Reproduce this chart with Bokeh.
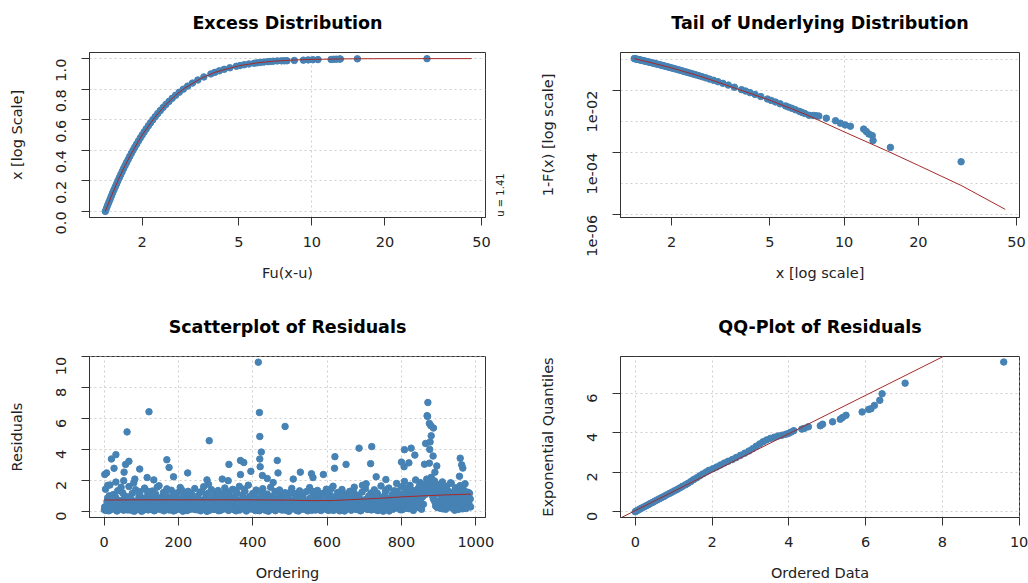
import math

from bokeh.embed import file_html
from bokeh.layouts import gridplot
from bokeh.models import (CustomJSTickFormatter, FixedTicker, LinearAxis,
                          PrintfTickFormatter, Range1d)
from bokeh.plotting import figure
from bokeh.resources import INLINE

FONT = "DejaVu Sans"
BLUE = "#4682b4"
RED = "brown"

# ---- excess / tail data (ordered exceedances over u = 1.41)
exceed_x = [
    1.41, 1.426, 1.442, 1.459, 1.476, 1.493, 1.511, 1.530, 1.549, 1.569,
    1.589, 1.610, 1.632, 1.654, 1.677, 1.701, 1.726, 1.752, 1.778, 1.806,
    1.835, 1.865, 1.897, 1.930, 1.964, 2.000, 2.038, 2.078, 2.121, 2.166,
    2.213, 2.264, 2.318, 2.376, 2.439, 2.506, 2.580, 2.660, 2.748, 2.846,
    2.956, 3.080, 3.223, 3.391, 3.591, 3.838, 3.986, 4.157, 4.356, 4.594,
    4.888, 5.064, 5.267, 5.503, 5.787, 5.952, 6.137, 6.346, 6.587, 6.749,
    6.931, 7.206,
    7.5, 7.7, 7.9, 8.47, 9.23, 9.66, 10.1, 10.6, 12.0, 12.3, 12.6, 13.0,
    13.1, 15.4, 29.8,
]
excess_cdf = [
    0.00, 0.02, 0.04, 0.06, 0.08, 0.10, 0.12, 0.14, 0.16, 0.18,
    0.20, 0.22, 0.24, 0.26, 0.28, 0.30, 0.32, 0.34, 0.36, 0.38,
    0.40, 0.42, 0.44, 0.46, 0.48, 0.50, 0.52, 0.54, 0.56, 0.58,
    0.60, 0.62, 0.64, 0.66, 0.68, 0.70, 0.72, 0.74, 0.76, 0.78,
    0.80, 0.82, 0.84, 0.86, 0.88, 0.90, 0.91, 0.92, 0.93, 0.94,
    0.95, 0.955, 0.96, 0.965, 0.97, 0.9725, 0.975, 0.9775, 0.98, 0.9815,
    0.983, 0.985,
    0.9852, 0.9855, 0.9859, 0.9879, 0.9900, 0.9917, 0.9927, 0.9934,
    0.9946, 0.9955, 0.9963, 0.9967, 0.9977, 0.9986, 0.9995,
]
tail_prob = [
    0.107, 0.1049, 0.1027, 0.1006, 0.0984, 0.0963, 0.0942, 0.0920, 0.0899, 0.0877,
    0.0856, 0.0835, 0.0813, 0.0792, 0.0770, 0.0749, 0.0728, 0.0706, 0.0685, 0.0663,
    0.0642, 0.0621, 0.0599, 0.0578, 0.0556, 0.0535, 0.0514, 0.0492, 0.0471, 0.0449,
    0.0428, 0.0407, 0.0385, 0.0364, 0.0342, 0.0321, 0.0300, 0.0278, 0.0257, 0.0235,
    0.0214, 0.0193, 0.0171, 0.0150, 0.0128, 0.0107, 0.00963, 0.00856, 0.00749, 0.00642,
    0.00535, 0.00482, 0.00428, 0.00375, 0.00321, 0.00294, 0.00268, 0.00241, 0.00214, 0.00198,
    0.00182, 0.00161,
    0.00158, 0.00155, 0.00151, 0.00129, 0.00107, 0.00089, 0.00078, 0.00071,
    0.000575, 0.00048, 0.00040, 0.000355, 0.000245, 0.000148, 0.000051,
]

# fitted GPD curves
fit_x = [1.41, 1.5, 1.6, 1.7, 1.8, 2.0, 2.25, 2.5, 2.75, 3.0, 3.5, 4.0,
         5.0, 6.0, 7.0, 8.5, 10, 15, 20, 30, 45.5]
fit_cdf = [0, 0.107, 0.211, 0.299, 0.376, 0.5, 0.614, 0.698, 0.760, 0.808,
           0.871, 0.911, 0.953, 0.973, 0.9835, 0.9913, 0.995, 0.9988,
           0.99957, 0.9999, 0.99998]
tail_fit_x = [1.41, 1.6, 2, 2.5, 3, 4, 5, 7, 10, 15, 20, 30, 45]
tail_fit = [0.107, 0.084, 0.0535, 0.032, 0.0200, 0.0090, 0.0049, 0.0017,
            0.00047, 0.000112, 3.9e-5, 8.6e-6, 1.5e-6]

# ---- residuals: bulk of the cloud, two interleaved runs of ordering indices
resid_band = [
    0.12, 1.45, 0.35, 0.88, 0.05, 1.72, 0.62, 0.21, 1.10, 0.45, 0.93, 0.08, 1.35, 0.71, 0.28, 1.58, 0.52, 0.16, 1.02, 0.39,
    0.84, 0.11, 1.62, 0.47, 0.25, 1.18, 0.67, 0.03, 1.41, 0.58, 0.19, 0.97, 1.28, 0.33, 0.76, 0.09, 1.52, 0.44, 0.64, 1.06,
    0.27, 0.81, 0.14, 1.33, 0.55, 0.06, 1.12, 0.73, 0.38, 1.67, 0.22, 0.91, 0.49, 1.24, 0.10, 0.69, 1.47, 0.31, 0.86, 0.17,
    1.38, 0.57, 0.04, 0.99, 0.42, 1.21, 0.24, 0.78, 1.56, 0.13, 0.61, 1.08, 0.36, 0.87, 0.07, 1.31, 0.53, 0.20, 1.15, 0.66,
    0.29, 1.49, 0.80, 0.12, 1.03, 0.46, 1.26, 0.18, 0.72, 1.61, 0.34, 0.95, 0.02, 1.19, 0.59, 0.26, 1.42, 0.83, 0.41, 1.09,
    0.15, 0.68, 1.36, 0.50, 0.08, 1.14, 0.74, 0.30, 1.53, 0.43, 0.89, 0.11, 1.27, 0.63, 0.23, 1.44, 0.56, 0.96, 0.05, 1.20,
    0.37, 1.63, 0.70, 0.19, 1.05, 0.48, 1.32, 0.09, 0.82, 1.71, 0.27, 0.92, 0.40, 1.17, 0.14, 0.60, 1.39, 0.32, 0.77, 0.06,
    1.25, 0.54, 1.48, 0.21, 0.90, 0.44, 1.13, 0.03, 0.75, 1.57, 0.35, 1.00, 0.16, 1.30, 0.62, 0.25, 0.85, 1.40, 0.47, 0.10,
    0.94, 0.31, 1.22, 0.58, 0.07, 1.07, 0.39, 0.71, 1.50, 0.18, 0.65, 1.16, 0.28, 0.88, 0.04, 1.34, 0.52, 0.22, 0.98, 0.45,
    0.13, 1.29, 0.61, 0.33, 1.55, 0.76, 0.09, 1.04, 0.42, 0.84, 0.20, 1.37, 0.57, 0.11, 0.93, 0.36, 1.18, 0.66, 0.26, 1.45,
    0.51, 0.08, 1.10, 0.73, 0.29, 1.64, 0.40, 0.97, 0.15, 1.23, 0.60, 0.05, 0.86, 1.43, 0.34, 0.79, 0.12, 1.14, 0.49, 0.70,
    1.31, 0.23, 0.90, 0.46, 1.58, 0.17, 0.68, 1.06, 0.30, 0.83, 0.06, 1.26, 0.55, 0.38, 1.49, 0.74, 0.14, 1.01, 0.43, 1.20,
    0.27, 0.95, 1.41, 0.59, 0.10, 1.12, 0.77, 0.35, 1.66, 0.48, 0.03, 0.99, 1.28, 0.62, 0.21, 1.52, 0.87, 0.41, 1.09, 0.16,
    1.35, 0.67, 1.82, 0.30, 1.15, 0.54, 1.60, 0.12, 0.96, 1.95, 0.44, 1.24, 0.72, 0.19, 1.70, 0.85, 1.38, 0.08, 1.05, 2.05,
    0.58, 1.46, 0.26, 1.88, 0.92, 1.30, 0.47, 1.77, 1.12, 2.10, 1.55, 1.85, 1.40, 2.22, 1.62, 0.80, 1.98, 0.36, 1.27, 0.68,
    1.75, 0.22, 1.10, 1.92, 0.50, 1.36, 0.15, 1.64, 0.88, 1.21, 0.40, 1.83, 0.61, 1.02, 0.09, 1.54, 0.77, 1.30, 0.33, 1.68,
    0.95, 0.18, 1.42, 0.64, 1.16, 0.28, 1.25, 0.45, 0.82,
]
band_order = list(range(1, 988, 3))  # ordering index 1, 4, 7, ...

resid_band2 = [
    0.31, 0.07, 0.66, 0.19, 1.02, 0.43, 0.14, 0.85, 0.26, 0.58, 1.91, 0.04, 0.37, 0.72, 0.16, 0.49, 1.22, 0.09, 0.63, 0.28,
    0.45, 0.95, 0.12, 0.34, 0.77, 0.06, 1.85, 0.53, 0.21, 0.68, 0.15, 1.12, 0.40, 0.02, 0.59, 0.87, 0.24, 0.46, 1.33, 0.11,
    0.62, 0.18, 0.41, 0.98, 0.07, 0.33, 0.74, 1.58, 0.22, 0.50, 0.13, 0.81, 0.36, 0.05, 0.69, 1.07, 0.27, 0.55, 0.10, 0.92,
    0.20, 0.47, 1.16, 0.08, 0.64, 0.30, 0.83, 0.15, 0.52, 1.40, 0.03, 0.39, 0.71, 0.24, 0.58, 0.11, 1.04, 0.44, 0.17, 0.79,
    0.56, 0.13, 0.35, 0.90, 0.22, 0.67, 0.05, 1.29, 0.42, 0.19, 0.75, 0.31, 0.61, 1.76, 0.09, 0.48, 0.27, 0.86, 0.14, 0.53,
    0.38, 1.01, 0.06, 0.57, 0.25, 0.80, 0.16, 0.45, 1.19, 0.33, 0.70, 0.08, 0.51, 0.94, 0.20, 0.63, 0.12, 1.36, 0.41, 0.28,
    0.73, 0.10, 0.49, 0.21, 0.88, 1.45, 0.34, 0.04, 0.60, 0.26, 0.97, 0.17, 0.54, 0.38, 1.11, 0.07, 0.66, 0.29, 0.84, 0.46,
    0.15, 0.59, 0.32, 1.06, 0.09, 0.71, 0.43, 0.23, 0.93, 0.13, 0.52, 1.88, 0.36, 0.06, 0.78, 0.27, 0.47, 1.15, 0.18, 0.64,
    0.40, 0.11, 0.82, 0.30, 0.55, 0.02, 1.24, 0.45, 0.19, 0.69, 0.35, 0.90, 0.08, 0.58, 0.25, 1.03, 0.14, 0.50, 0.76, 0.33,
    0.21, 0.67, 0.05, 0.48, 0.86, 0.16, 1.31, 0.37, 0.62, 0.10, 0.44, 0.99, 0.27, 0.74, 0.07, 0.53, 1.17, 0.30, 0.57, 0.13,
    0.85, 0.34, 0.18, 1.48, 0.42, 0.08, 0.65, 0.26, 0.95, 0.12, 0.51, 0.31, 1.09, 0.20, 0.70, 0.04, 0.46, 0.81, 0.23, 0.60,
    0.37, 0.09, 0.72, 1.27, 0.28, 0.54, 0.14, 0.89, 0.41, 0.06, 0.63, 1.70, 0.22, 0.48, 0.79, 0.17, 0.57, 0.32, 1.00, 0.11,
    0.50, 0.83, 0.19, 0.44, 1.21, 0.07, 0.66, 0.35, 0.92, 0.25, 0.58, 0.13, 1.39, 0.43, 0.71, 0.04, 0.52, 0.87, 0.29, 0.62,
    0.95, 0.24, 1.30, 0.48, 0.76, 0.12, 1.12, 0.58, 0.36, 1.52, 0.82, 0.21, 1.05, 0.65, 1.41, 0.30, 0.92, 1.22, 0.44, 0.73,
    1.18, 0.38, 1.65, 0.70, 0.15, 0.96, 1.35, 1.14, 1.72, 1.25, 1.95, 1.48, 1.60, 1.32, 0.98, 1.78, 0.62, 1.15, 0.27, 1.45,
    0.55, 1.28, 0.84, 0.18, 1.50, 0.72, 1.05, 0.34, 1.32, 0.60, 1.86, 0.25, 1.12, 0.77, 1.40, 0.48, 0.93, 0.14, 1.22, 0.66,
    1.08, 0.42, 0.85, 1.30, 0.20, 0.96, 0.58, 1.18, 0.30,
]
band_order2 = list(range(2, 989, 3))  # ordering index 2, 5, 8, ...

# larger residuals read individually
peak_order = [2, 7, 10, 20, 27, 32, 54, 53, 58, 62, 67, 83, 96, 116, 121, 134,
              169, 175, 187, 225, 277, 283, 318, 334, 336, 367, 376, 367, 395,
              415, 418, 419, 423, 419, 420, 426, 439, 466, 468, 487, 509, 528,
              558, 562, 590, 620, 621, 651, 686, 705, 717, 720, 732, 758, 800,
              807, 808, 820, 826, 836, 862, 865, 869, 870, 871, 875, 876, 877,
              879, 880, 885, 886, 875, 890, 895, 956, 958, 962, 965, 971]
peak_resid = [2.4, 2.5, 1.7, 3.4, 2.8, 3.68, 2.55, 2.0, 3.05, 5.15, 3.25, 2.1,
              2.75, 2.2, 6.45, 2.05, 3.35, 2.85, 2.25, 2.5, 2.05, 4.58, 2.1,
              2.0, 3.05, 3.3, 3.17, 2.39, 2.6, 9.65, 6.4, 4.85, 3.85, 3.4, 2.9,
              2.33, 2.14, 3.3, 2.5, 5.5, 2.1, 2.55, 2.45, 2.2, 2.4, 2.8, 3.55,
              3.05, 4.1, 1.8, 3.1, 4.2, 2.25, 2.07, 3.2, 2.9, 4.0, 3.15, 4.1,
              3.65, 3.06, 4.4, 6.2, 6.15, 7.05, 5.7, 4.02, 4.5, 5.55, 4.9,
              3.59, 5.4, 3.13, 2.55, 2.95, 2.28, 3.45, 3.02, 2.81, 1.8]

lowess_x = [1, 100, 200, 300, 400, 500, 560, 620, 680, 740, 800, 860, 920, 987]
lowess_y = [0.75, 0.76, 0.76, 0.76, 0.76, 0.74, 0.71, 0.72, 0.79, 0.86,
            0.95, 1.02, 1.08, 1.13]

# ---- QQ plot of residuals
qq_data = [
    0.00, 0.03, 0.07, 0.11, 0.15, 0.20, 0.25, 0.30, 0.35, 0.40, 0.46, 0.51,
    0.57, 0.63, 0.69, 0.75, 0.81, 0.88, 0.95, 1.02, 1.09, 1.16, 1.23, 1.31,
    1.38, 1.45, 1.52, 1.60, 1.68, 1.76, 1.85, 1.92, 2.02, 2.12, 2.22, 2.32,
    2.42, 2.53, 2.63, 2.74, 2.85, 2.96, 3.06, 3.15, 3.24, 3.33, 3.42, 3.52,
    3.62, 3.72, 3.82, 3.92, 4.00, 4.06,
    4.13, 4.34, 4.41, 4.51, 4.82, 4.88, 5.14, 5.34, 5.40, 5.49, 5.91, 6.08,
    6.14, 6.23, 6.37, 6.43, 7.03, 9.60,
]
qq_exp = [
    0.00, 0.04, 0.08, 0.13, 0.17, 0.22, 0.27, 0.32, 0.37, 0.43, 0.48, 0.54,
    0.60, 0.66, 0.72, 0.78, 0.85, 0.92, 0.99, 1.06, 1.13, 1.21, 1.29, 1.37,
    1.45, 1.54, 1.63, 1.72, 1.82, 1.92, 2.02, 2.10, 2.18, 2.27, 2.37, 2.47,
    2.56, 2.65, 2.75, 2.86, 2.97, 3.08, 3.20, 3.32, 3.44, 3.55, 3.64, 3.72,
    3.78, 3.84, 3.88, 3.93, 3.98, 4.04,
    4.11, 4.19, 4.23, 4.31, 4.36, 4.44, 4.56, 4.69, 4.78, 4.89, 5.06, 5.19,
    5.22, 5.39, 5.65, 5.98, 6.52, 7.59,
]
qq_line_x = [-0.4, 8.3]
qq_line_y = [-0.33, 8.14]

# ---- tick positions
log_x_ticks = [2, 5, 10, 20, 50]
cdf_ticks = [0.0, 0.2, 0.4, 0.6, 0.8, 1.0]
tail_ticks = [1e-6, 1e-4, 1e-2]
tail_grid = [1e-1, 1e-2, 1e-3, 1e-4, 1e-5, 1e-6]
order_ticks = [0, 200, 400, 600, 800, 1000]
resid_ticks = [0, 2, 4, 6, 8, 10]
qq_x_ticks = [0, 2, 4, 6, 8, 10]
qq_y_ticks = [0, 2, 4, 6]


def panel(title, width, height, xr, yr, borders, xtype="linear", ytype="linear"):
    left, right, top, bottom = borders
    p = figure(width=width, height=height,
               x_range=xr, y_range=yr, x_axis_type=xtype, y_axis_type=ytype,
               toolbar_location=None, output_backend="svg",
               min_border_left=left, min_border_right=right,
               min_border_top=top, min_border_bottom=bottom,
               background_fill_color="white", border_fill_color="white")
    p.outline_line_color = "#333333"
    p.outline_line_width = 1
    p.grid.grid_line_color = "#cfcfcf"
    p.grid.grid_line_dash = "2 3"
    for ax in p.axis:
        ax.axis_label_text_font = FONT
        ax.axis_label_text_font_size = "14.5px"
        ax.axis_label_text_font_style = "normal"
        ax.axis_label_text_color = "#222222"
        ax.major_label_text_font = FONT
        ax.major_label_text_font_size = "14.5px"
        ax.major_label_text_color = "#222222"
        ax.axis_line_color = "#333333"
        ax.major_tick_line_color = "#333333"
        ax.major_tick_out = 8
        ax.major_tick_in = 0
        ax.minor_tick_out = 0
        ax.minor_tick_in = 0
    xb = p.below[0]
    xb.major_label_standoff = 11
    xb.axis_label_standoff = 15
    p.yaxis.major_label_orientation = math.pi / 2
    p.yaxis.major_label_standoff = 20
    p.yaxis.axis_label_standoff = 24
    # main title as the label of a bare axis above the frame (lets it sit higher)
    head = LinearAxis(ticker=FixedTicker(ticks=[]), axis_label=title,
                      axis_line_color=None, major_tick_line_color=None,
                      major_tick_out=0, major_tick_in=0,
                      minor_tick_out=0, minor_tick_in=0,
                      major_label_standoff=0, axis_label_standoff=20,
                      axis_label_text_font=FONT,
                      axis_label_text_font_size="17.5px",
                      axis_label_text_font_style="bold",
                      axis_label_text_color="black")
    p.add_layout(head, "above")
    return p, xb


# Excess Distribution
p1, x1 = panel("Excess Distribution", 514, 291, Range1d(1.214, 51.9),
               Range1d(-0.04, 1.04), (89, 26, 52, 74), xtype="log")
x1.ticker = FixedTicker(ticks=log_x_ticks)
x1.formatter = PrintfTickFormatter(format="%d")
x1.axis_label = "Fu(x-u)"
p1.yaxis.ticker = FixedTicker(ticks=cdf_ticks)
p1.yaxis.formatter = PrintfTickFormatter(format="%.1f")
p1.yaxis.axis_label = "x [log Scale]"
p1.xgrid.ticker = FixedTicker(ticks=[10])
p1.ygrid.ticker = FixedTicker(ticks=cdf_ticks)
p1.scatter(exceed_x, excess_cdf, size=6.5, color=BLUE)
p1.line(fit_x, fit_cdf, line_color=RED, line_width=1)
# threshold note in the right margin, starting at the bottom of the frame
u_axis = LinearAxis(ticker=FixedTicker(ticks=[-0.035]),
                    formatter=CustomJSTickFormatter(code="return 'u = 1.41';"),
                    axis_line_color=None, major_tick_line_color=None,
                    major_tick_out=0, major_tick_in=0,
                    minor_tick_out=0, minor_tick_in=0,
                    major_label_orientation=math.pi / 2,
                    major_label_standoff=15,
                    major_label_text_font=FONT,
                    major_label_text_font_size="10px",
                    major_label_text_color="#222222")
p1.add_layout(u_axis, "right")

# Tail of Underlying Distribution
p2, x2 = panel("Tail of Underlying Distribution", 514, 291, Range1d(1.24, 51.4),
               Range1d(8.2e-7, 0.168), (106, 9, 52, 74), xtype="log", ytype="log")
x2.ticker = FixedTicker(ticks=log_x_ticks)
x2.formatter = PrintfTickFormatter(format="%d")
x2.axis_label = "x [log scale]"
p2.yaxis.ticker = FixedTicker(ticks=tail_ticks)
p2.yaxis.formatter = CustomJSTickFormatter(
    code="return '1e-0' + Math.round(-Math.log10(tick));")
p2.yaxis.axis_label = "1-F(x) [log scale]"
p2.xgrid.ticker = FixedTicker(ticks=[10])
p2.ygrid.ticker = FixedTicker(ticks=tail_grid)
p2.scatter(exceed_x, tail_prob, size=6.5, color=BLUE)
p2.line(tail_fit_x, tail_fit, line_color=RED, line_width=1)

# Scatterplot of Residuals
p3, x3 = panel("Scatterplot of Residuals", 514, 292, Range1d(-39, 1026),
               Range1d(-0.38, 10.02), (89, 26, 65, 63))
x3.ticker = FixedTicker(ticks=order_ticks)
x3.axis_label = "Ordering"
p3.xgrid.ticker = FixedTicker(ticks=order_ticks)
p3.yaxis.ticker = FixedTicker(ticks=resid_ticks)
p3.yaxis.axis_label = "Residuals"
p3.scatter(band_order, resid_band, size=6.5, color=BLUE)
p3.scatter(band_order2, resid_band2, size=6.5, color=BLUE)
p3.scatter(peak_order, peak_resid, size=6.5, color=BLUE)
p3.line(lowess_x, lowess_y, line_color=RED, line_width=1)

# QQ-Plot of Residuals
p4, x4 = panel("QQ-Plot of Residuals", 514, 292, Range1d(-0.385, 10.01),
               Range1d(-0.29, 7.87), (106, 9, 65, 63))
x4.ticker = FixedTicker(ticks=qq_x_ticks)
x4.axis_label = "Ordered Data"
p4.xgrid.ticker = FixedTicker(ticks=qq_x_ticks)
p4.yaxis.ticker = FixedTicker(ticks=qq_y_ticks)
p4.yaxis.axis_label = "Exponential Quantiles"
p4.scatter(qq_data, qq_exp, size=6.5, color=BLUE)
p4.line(qq_line_x, qq_line_y, line_color=RED, line_width=1)

grid = gridplot([[p1, p2], [p3, p4]], toolbar_location=None)

html = file_html(grid, INLINE, "GPD fit diagnostics")
open("out.html", "w").write(html)
